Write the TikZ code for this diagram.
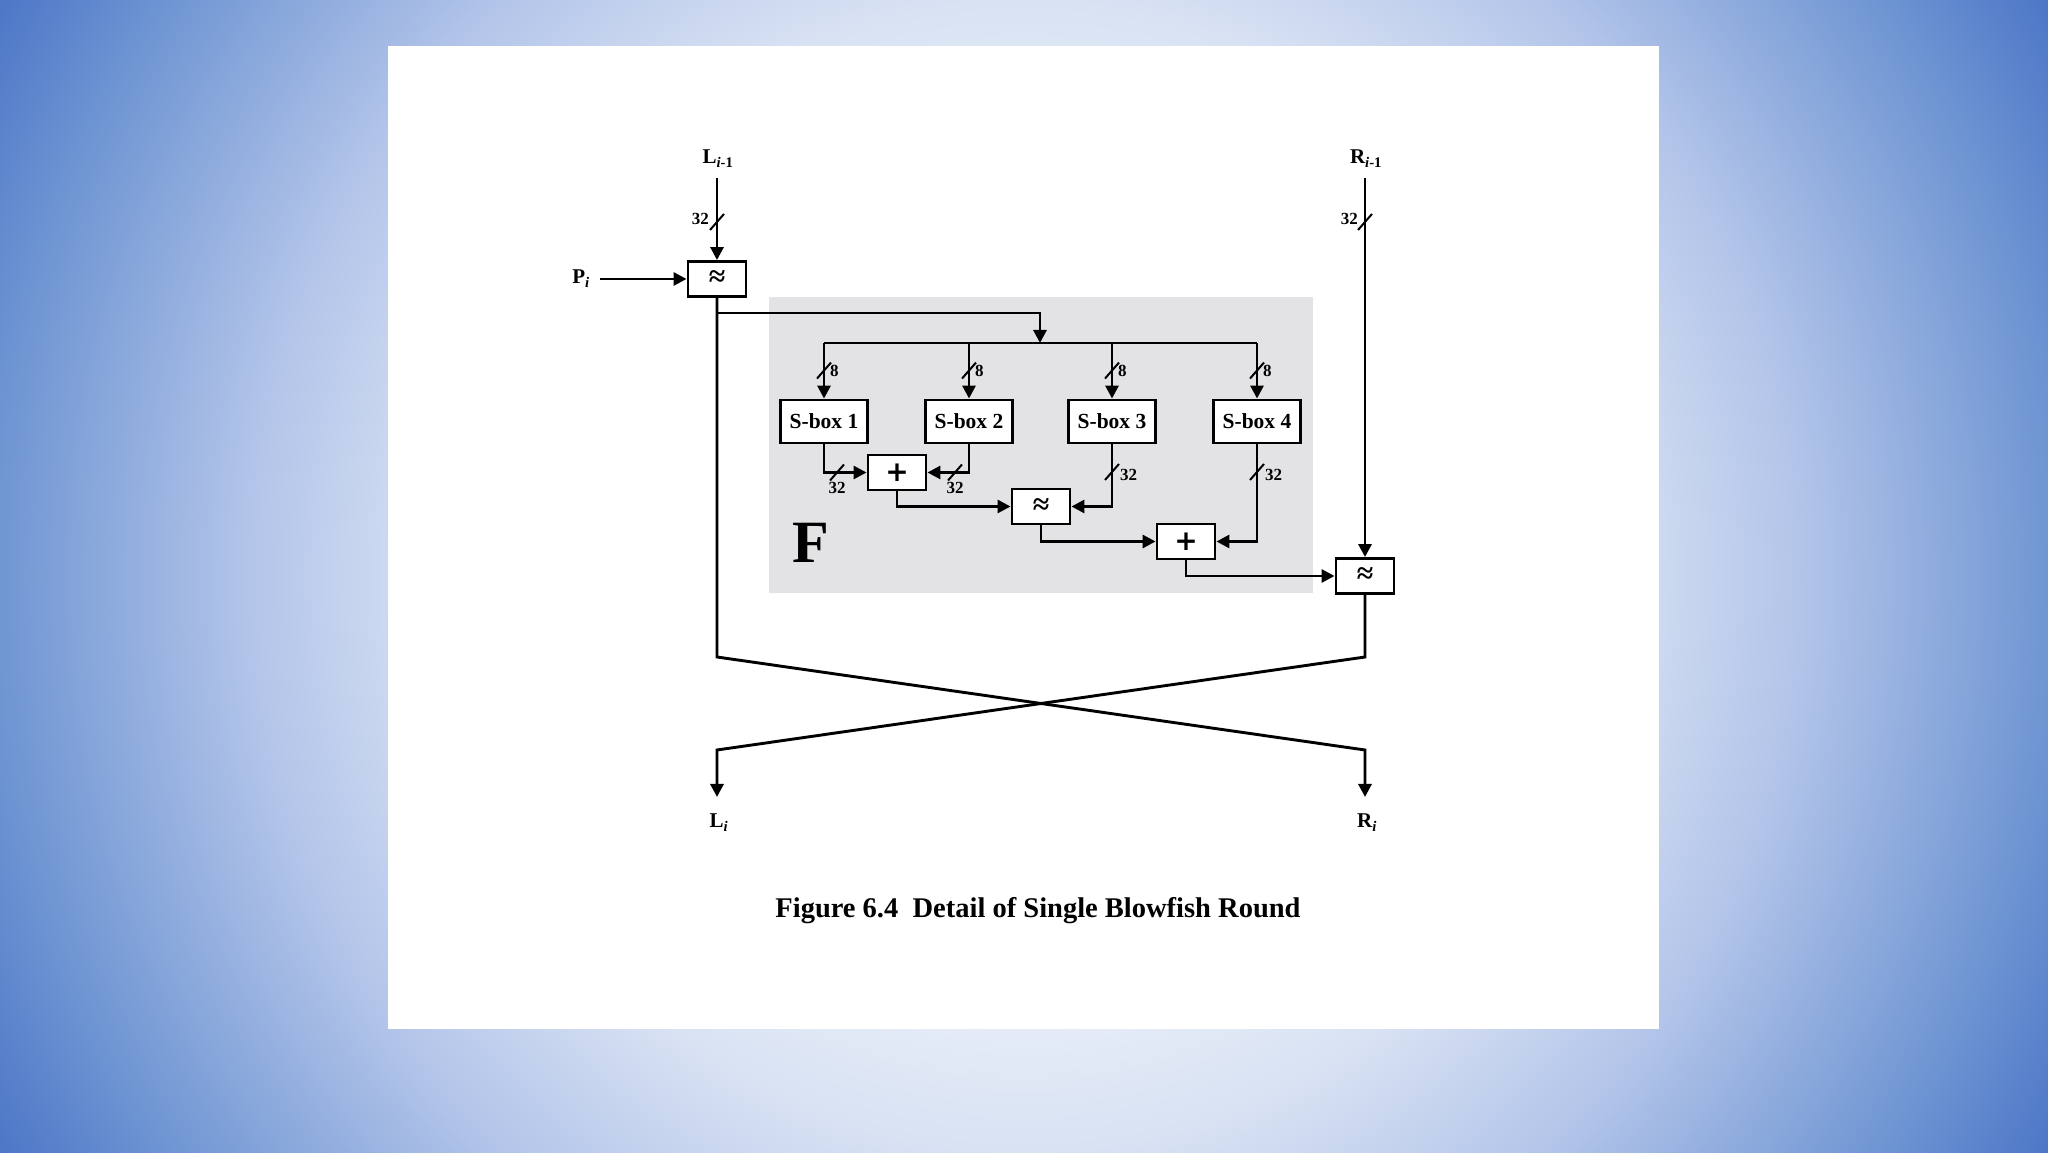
\documentclass[tikz,border=0pt]{standalone}
\usepackage{fontspec}
\setmainfont{Liberation Serif}
\newfontfamily\opfont{DejaVu Sans}
\usetikzlibrary{positioning, arrows.meta}
\definecolor{bgA}{RGB}{238,242,250}
\definecolor{bgB}{RGB}{216,226,243}
\definecolor{bgC}{RGB}{178,196,233}
\definecolor{bgD}{RGB}{112,150,211}
\definecolor{bgE}{RGB}{74,116,198}
\definecolor{fgray}{RGB}{227,227,229}
\pgfdeclareradialshading{slideglow}{\pgfpoint{0bp}{0bp}}{color(0bp)=(bgA); color(9bp)=(bgA); color(14bp)=(bgB); color(19bp)=(bgC); color(25bp)=(bgD); color(29bp)=(bgE); color(40bp)=(bgE)}
\newcommand{\xorsym}{{\fontsize{30}{30}\selectfont\bfseries ≈}}
\newcommand{\plussym}{{\opfont\fontsize{28}{28}\selectfont\bfseries +}}
\newcommand{\tickat}[1]{\draw[tick] (#1) ++(-7,-8) -- ++(14,16);}

\begin{document}
\begin{tikzpicture}[x=1pt, y=1pt,
  wire/.style={line width=2.9pt},
  arr/.style={wire, -{Triangle[length=13pt,width=13pt]}},
  tick/.style={line width=2pt},
  opbox/.style={draw, line width=2.9pt, fill=white, minimum width=58pt, minimum height=35pt, inner sep=0pt},
  sbox/.style={opbox, minimum width=87pt, minimum height=43pt, font=\fontsize{21.5}{24}\selectfont\bfseries},
  bits/.style={font=\fontsize{17}{19}\selectfont\bfseries, inner sep=0pt},
  io/.style={font=\fontsize{21}{24}\selectfont\bfseries, inner sep=0pt, anchor=base}]

% slide background and page
\useasboundingbox (0,0) rectangle (2048,1152);
\begin{scope}
\clip (0,0) rectangle (2048,1152);
\shade[shading=slideglow] (0,-448) rectangle (2048,1600);
\end{scope}
\fill[white] (388,123) rectangle (1659,1106);
\fill[fgray] (769,559) rectangle (1313,855);
\node[font=\fontsize{60}{60}\selectfont\bfseries, anchor=base] (flabel) at (811,589) {F};

% inputs
\node[io] (lin) at (718,988) {L\textsubscript{\textit{i}-1}};
\node[io] (rin) at (1366,988) {R\textsubscript{\textit{i}-1}};
\node[io] (pin) at (581,868) {P\textsubscript{\textit{i}}};
\coordinate (ltop) at (717,974);
\coordinate (rtop) at (1365,974);
\coordinate (pstart) at (600,873);

\node[opbox] (xor1) at (717,873) {\xorsym};
\draw[arr] (ltop) -- (xor1.north);
\draw[arr] (pstart) -- (xor1.west);
\tickat{717,930}
\node[bits, anchor=east] (l32) at (709,933) {32};

% S-boxes
\foreach \i/\x in {1/824, 2/969, 3/1112, 4/1257}
  \node[sbox] (s\i) at (\x,730.5) {S-box \i};

\coordinate (fsplit) at (717,839);
\coordinate (fin) at (1040,809);
\draw[arr] (fsplit) -| (fin);
\draw[wire] (s1.north |- fin) -- (s4.north |- fin);
\foreach \i in {1,...,4} {
  \draw[arr] (s\i.north |- fin) -- (s\i.north);
  \path (s\i.north) ++(0,28) coordinate (t\i);
  \draw[tick] (t\i) ++(-7,-8) -- ++(14,16);
  \node[bits, anchor=west] (b\i) at ([xshift=6pt]t\i) {8};
}

% combining
\node[opbox] (add1) at (897,679.5) {\plussym};
\node[opbox] (xor2) at (1041,645.5) {\xorsym};
\node[opbox] (add2) at (1186,610.5) {\plussym};
\node[opbox] (xor3) at (1365,576) {\xorsym};

\draw[arr] (s1.south) |- (add1.west);
\draw[arr] (s2.south) |- (add1.east);
\draw[arr] (add1.south) |- (xor2.west);
\draw[arr] (s3.south) |- (xor2.east);
\draw[arr] (xor2.south) |- (add2.west);
\draw[arr] (s4.south) |- (add2.east);
\draw[arr] (add2.south) |- (xor3.west);
\draw[arr] (rtop) -- (xor3.north);

\tickat{837,679.5}
\node[bits] (o1) at (837,664) {32};
\tickat{955,679.5}
\node[bits] (o2) at (955,664) {32};
\tickat{1112,680}
\node[bits, anchor=west] (o3) at (1120,677) {32};
\tickat{1257,680}
\node[bits, anchor=west] (o4) at (1265,677) {32};
\tickat{1365,930}
\node[bits, anchor=east] (r32) at (1358,933) {32};

% swap
\coordinate (lbend) at (717,495);
\coordinate (rbend) at (1365,495);
\coordinate (llow) at (717,402);
\coordinate (rlow) at (1365,402);
\coordinate (lend) at (717,355);
\coordinate (rend) at (1365,355);
\draw[arr] (xor1.south) -- (lbend) -- (rlow) -- (rend);
\draw[arr] (xor3.south) -- (rbend) -- (llow) -- (lend);

\node[io] (lout) at (719,324) {L\textsubscript{\textit{i}}};
\node[io] (rout) at (1367,324) {R\textsubscript{\textit{i}}};

\node[font=\fontsize{28.5}{32}\selectfont\bfseries, anchor=base] (caption) at (1038,235) {Figure 6.4\ \ Detail of Single Blowfish Round};
\end{tikzpicture}
\end{document}
